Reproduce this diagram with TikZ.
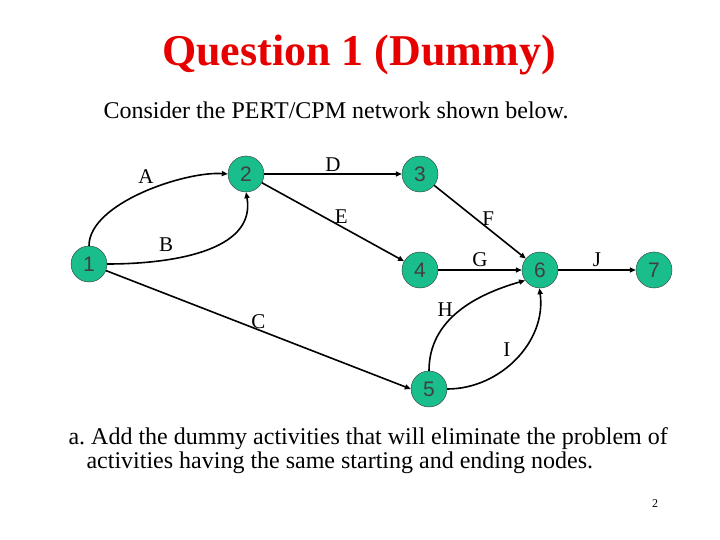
\documentclass[tikz,border=0pt]{standalone}
\usepackage{fontspec}
\setmainfont{Liberation Serif}
\newfontfamily\nodefont{Liberation Sans}
\usepackage{xcolor}
\usetikzlibrary{arrows.meta,positioning}

\definecolor{evtgreen}{RGB}{26,190,140}
\definecolor{titlered}{RGB}{230,0,0}

\begin{document}
\frenchspacing
\begin{tikzpicture}[
  x=1pt, y=-1pt,
  evt/.style={draw=black!80, circle, fill=evtgreen, minimum size=36pt, inner sep=0pt, font=\nodefont\fontsize{21}{21}\selectfont, text=black!75},
  act/.style={-{Triangle[length=6pt,width=5pt]}, line width=1.6pt},
  lbl/.style={font=\fontsize{21}{21}\selectfont, inner sep=1pt}
]
\useasboundingbox (0,0) rectangle (720,540);
% heading
\node[font=\bfseries\fontsize{44}{44}\selectfont, text=titlered] (title) at (359,55) {Question 1 (Dummy)};
\node[font=\fontsize{24}{24}\selectfont, anchor=west] (intro) at (100,110) {Consider the PERT/CPM network shown below.};
% events
\node[evt] (n1) at (89,264) {1};
\node[evt] (n2) at (246,174) {2};
\node[evt] (n3) at (420,174) {3};
\node[evt] (n4) at (420,270) {4};
\node[evt] (n5) at (429,389) {5};
\node[evt] (n6) at (540,270) {6};
\node[evt] (n7) at (654,270) {7};
% activities
\draw[act] (n1.north) to[out=90, in=176, looseness=0.7] node[lbl, pos=0.52, above=6pt] {A} (n2.west);
\draw[act] (n1.east) to[out=0, in=-80] node[lbl, pos=0.3, above=6pt] {B} (n2.south);
\draw[act] (n2) -- node[lbl, above=1pt] {D} (n3);
\draw[act] (n2) -- node[lbl, pos=0.5, above right=-3pt and 0pt] {E} (n4);
\draw[act] (n3) -- node[lbl, pos=0.55, above right=-2pt and -4pt] {F} (n6);
\draw[act] (n4) -- node[lbl, above=1pt] {G} (n6);
\draw[act] (n6) -- node[lbl, above=1pt] {J} (n7);
\draw[act] (n1) -- node[lbl, pos=0.5, above=-1pt] {C} (n5.west);
\draw[act] (n5.north) to[out=90, in=196] node[lbl, pos=0.52, left=6pt] {H} (n6.-145);
\draw[act] (n5.east) to[out=0, in=-82] node[lbl, pos=0.5, above left=0pt and 4pt] {I} (n6.-92);
% question
\node[font=\fontsize{24}{24}\selectfont, anchor=north west, align=left] (quest) at (65,424) {a. Add the dummy activities that will eliminate the problem of\\\hspace*{18pt}activities having the same starting and ending nodes.};
\node[font=\fontsize{12}{12}\selectfont] (pagenum) at (655,504) {2};
\end{tikzpicture}
\end{document}
